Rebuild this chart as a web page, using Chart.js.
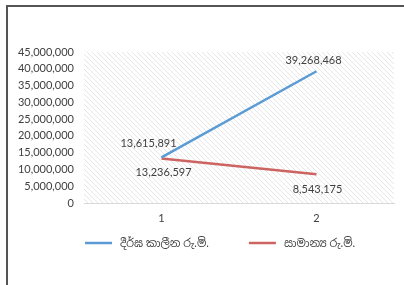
<!DOCTYPE html>
<html><head><meta charset="utf-8">
<script src="https://cdn.jsdelivr.net/npm/chart.js@4"></script>
<style>
html,body{margin:0;padding:0;background:#fff;width:404px;height:285px;overflow:hidden;}
#frame{position:absolute;left:6px;top:5px;width:420px;height:300px;border-left:2px solid #555;border-top:2px solid #555;}
#wrap{position:absolute;left:0;top:0;width:404px;height:285px;}
</style></head><body>
<div id="frame"></div>
<div id="wrap"><canvas id="c" width="404" height="285"></canvas></div>
<script>
const categories = ['1', '2'];
const seriesNames = ['දීර්ඝ කාලීන රු.මි.', 'සාමාන්‍ය රු.මි.'];
const longTerm = [13615891, 39268468];
const normal = [13236597, 8543175];
const yTicks = [0, 5000000, 10000000, 15000000, 20000000, 25000000, 30000000, 35000000, 40000000, 45000000];

const FONT = "Lato, 'Noto Sans', 'Noto Sans Sinhala', sans-serif";

function hatch(ctx){
  const p = document.createElement('canvas');
  p.width = 5; p.height = 5;
  const g = p.getContext('2d');
  g.strokeStyle = '#e6e6e6'; g.lineWidth = 1;
  g.beginPath();
  g.moveTo(0,0); g.lineTo(5,5);
  g.moveTo(-1,4); g.lineTo(1,6);
  g.moveTo(4,-1); g.lineTo(6,1);
  g.stroke();
  return ctx.createPattern(p,'repeat');
}

const bgPlugin = {
  id:'bg',
  beforeDraw(chart){
    const {ctx, chartArea:a} = chart;
    ctx.save();
    ctx.fillStyle = hatch(ctx);
    ctx.fillRect(a.left, a.top, a.right-a.left, a.bottom-a.top);
    ctx.restore();
  }
};

const labelOffsets = [[[-13,-14],[-3,-11]],[[2,14],[1,15]]];
const labelPlugin = {
  id:'lbl',
  afterDatasetsDraw(chart){
    const ctx = chart.ctx;
    ctx.save();
    ctx.font = "11px " + FONT;
    ctx.fillStyle = '#404040';
    ctx.textAlign = 'center';
    ctx.textBaseline = 'middle';
    chart.data.datasets.forEach((ds, di) => {
      const meta = chart.getDatasetMeta(di);
      meta.data.forEach((pt, i) => {
        const off = labelOffsets[di][i];
        ctx.fillText(ds.data[i].toLocaleString('en-US'), pt.x + off[0], pt.y + off[1]);
      });
    });
    ctx.restore();
  }
};

const legendPlugin = {
  id:'customLegend',
  afterDraw(chart){
    const ctx = chart.ctx;
    const a = chart.chartArea;
    ctx.save();
    ctx.font = "11px " + FONT;
    ctx.textBaseline = 'middle';
    ctx.textAlign = 'left';
    let x = a.left + 1;
    const y = a.bottom + 40;
    chart.data.datasets.forEach((ds, di) => {
      ctx.strokeStyle = ds.borderColor;
      ctx.lineWidth = ds.borderWidth;
      ctx.beginPath();
      ctx.moveTo(x, y); ctx.lineTo(x + 27, y);
      ctx.stroke();
      x += 35;
      ctx.fillStyle = '#404040';
      ctx.fillText(ds.label, x, y);
      x += ctx.measureText(ds.label).width + 40;
    });
    ctx.restore();
  }
};

new Chart(document.getElementById('c'), {
  type:'line',
  data:{
    labels: categories,
    datasets:[
      {label: seriesNames[0], data: longTerm, borderColor:'#5B9BD5', backgroundColor:'#5B9BD5', borderWidth:2.5, pointRadius:0, tension:0},
      {label: seriesNames[1], data: normal, borderColor:'#CC6462', backgroundColor:'#CC6462', borderWidth:2.5, pointRadius:0, tension:0}
    ]
  },
  options:{
    responsive:false, animation:false,
    layout:{padding:{top:52, right:10, bottom:57, left:0}},
    plugins:{
      legend:{display:false},
      tooltip:{enabled:false}
    },
    scales:{
      x:{offset:true, grid:{display:false, drawTicks:false}, border:{display:true, color:'#d9d9d9', width:1},
         ticks:{padding:9, color:'#404040', font:{family:FONT, size:11}},
         afterFit(s){ s.height = 25; }},
      y:{min:0, max:45000000, grid:{display:false, drawTicks:false}, border:{display:false},
         afterBuildTicks(s){ s.ticks = yTicks.map(v=>({value:v})); },
         ticks:{autoSkip:false, padding:10, color:'#404040', font:{family:FONT, size:11}, callback:v=>v.toLocaleString('en-US')},
         afterFit(s){ s.width = 84; }}
    }
  },
  plugins:[bgPlugin, labelPlugin, legendPlugin]
});
</script>
</body></html>
